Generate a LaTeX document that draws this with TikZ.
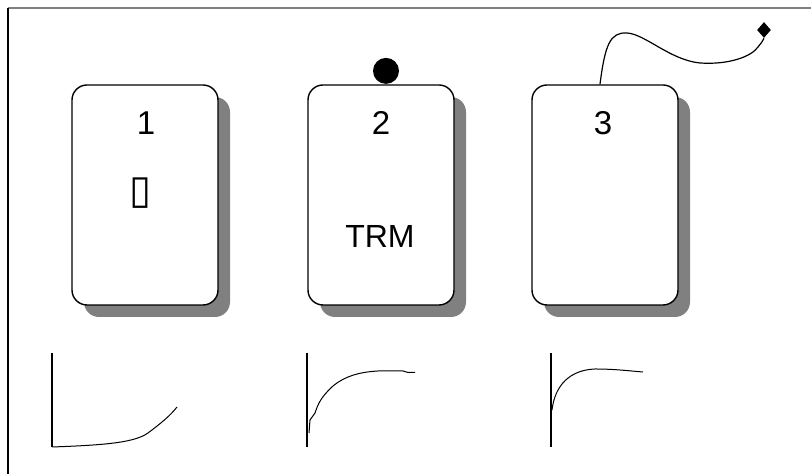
\documentclass[tikz,border=0pt]{standalone}
\usepackage{fontspec}
\setmainfont{Liberation Sans}
\newfontfamily\symfont{DejaVu Sans}
\usetikzlibrary{shadows,shapes.geometric,positioning}

\begin{document}
\begin{tikzpicture}[x=0.5pt, y=-0.5pt,
    card/.style={draw, line width=0.7pt, fill=white, rounded corners=7.5pt,
      minimum width=73pt, minimum height=110pt,
      drop shadow={shadow xshift=6pt, shadow yshift=-6pt, fill=gray, opacity=1}},
    num/.style={font=\fontsize{16.5}{18}\selectfont, inner sep=0pt},
    axis/.style={line width=1.3pt},
    trace/.style={line width=0.5pt}]

  % page size and frame
  \useasboundingbox (0,0) rectangle (811,474);
  \draw[gray, line width=0.6pt] (8,8) -- (811,8);
  \draw[line width=0.6pt] (8,8) -- (8,474);

  % the three cards
  \node[card] (c1) at (145,195) {};
  \node[card] (c2) at (381,195) {};
  \node[card] (c3) at (605,195) {};

  % card numbers
  \node[num] (n1) at (146,123) {1};
  \node[num] (n2) at (381,123) {2};
  \node[num] (n3) at (603,123) {3};

  % contents
  \node[inner sep=0pt, font=\symfont\fontsize{20}{20}\selectfont] (glyph) at (141,193) {▯};
  \node[inner sep=0pt, font=\fontsize{16}{18}\selectfont] (trm) at (380,237) {TRM};

  % bead on card 2
  \node[circle, fill, inner sep=0pt, minimum width=12pt, minimum height=13pt,
    anchor=south] (bead) at ([xshift=2.5pt]c2.north) {};

  % wire on card 3
  \coordinate (w0) at ([xshift=-2.5pt]c3.north);
  \node[diamond, fill, inner sep=0pt, minimum width=7pt, minimum height=8pt] (tip) at (764,30) {};
  \draw[line width=0.6pt] (w0) .. controls (605,45) and (610,32) .. (627,33)
    .. controls (645,34) and (670,60) .. (700,63)
    .. controls (730,65) and (752,56) .. (758,47)
    .. controls (762,42) .. (tip.south);

  % response curves
  \coordinate (a1) at (52,353);
  \coordinate (o1) at (52,447);
  \draw[axis] (a1) -- (o1);
  \draw[trace] (o1) .. controls (110,445) and (135,442) .. (148,433)
    .. controls (160,424) and (170,416) .. (177,407);

  \coordinate (a2) at (307,353);
  \coordinate (o2) at (307,447);
  \draw[axis] (a2) -- (o2);
  \draw[trace] (309,433) -- (310,420) -- (315,413)
    .. controls (318,404) and (321,397) .. (333,386)
    .. controls (345,376) and (360,372) .. (378,371)
    -- (403,371) -- (408,372.5) -- (415,372.5);

  \coordinate (a3) at (551,353);
  \coordinate (o3) at (551,447);
  \draw[axis] (a3) -- (o3);
  \draw[trace] (552,410) .. controls (555,385) and (570,370) .. (595,369)
    .. controls (615,369) and (630,371) .. (643,372);

\end{tikzpicture}
\end{document}
